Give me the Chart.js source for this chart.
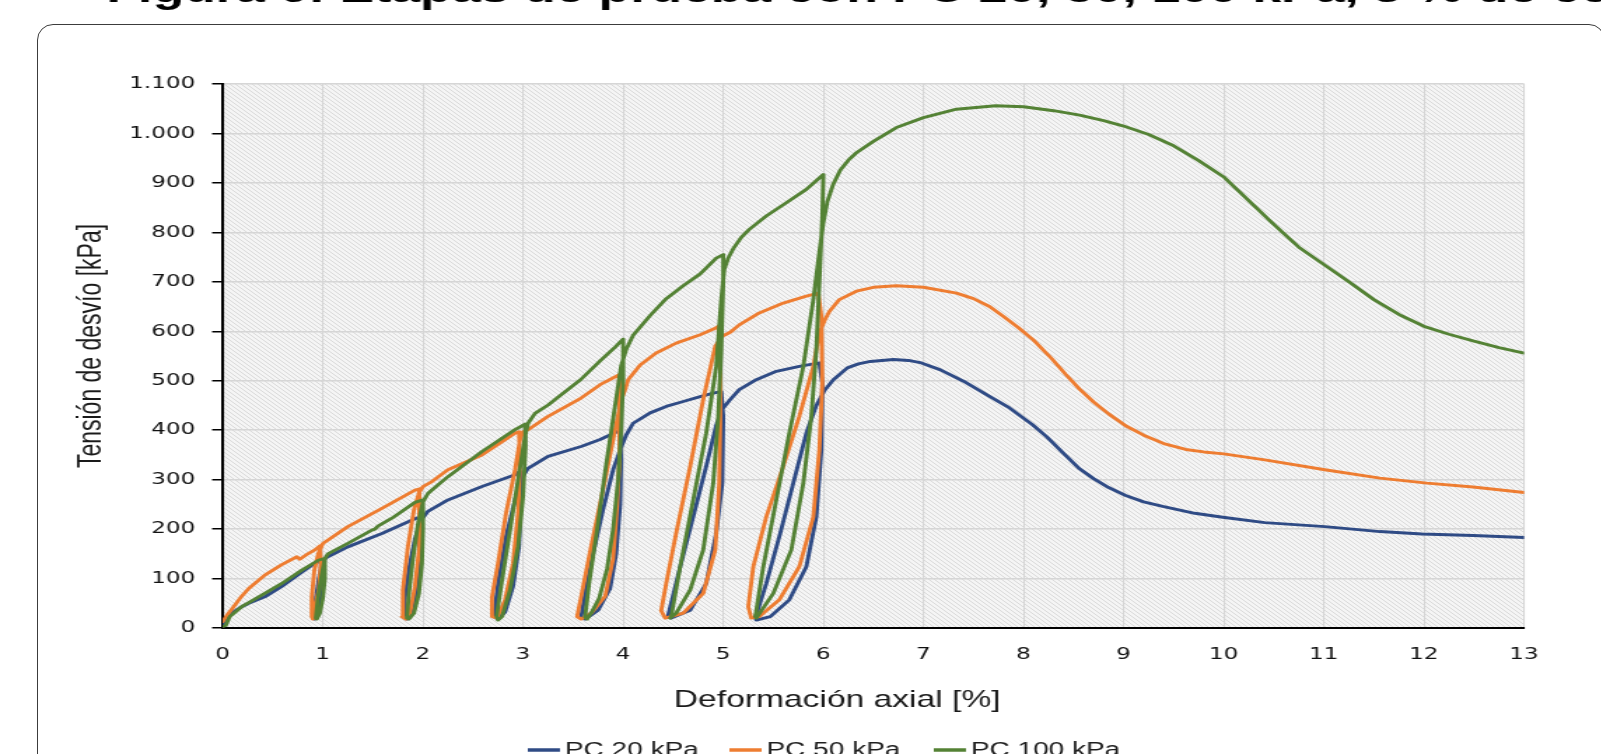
<!DOCTYPE html>
<html lang="es">
<head>
<meta charset="utf-8">
<title>Tensión de desvío - Deformación axial</title>
<script src="https://cdn.jsdelivr.net/npm/chart.js@4.4.1/dist/chart.umd.min.js"></script>
<style>
  html, body { margin: 0; padding: 0; background: #fff; }
  body { width: 1601px; height: 754px; overflow: hidden; position: relative; }
  #frame { position: absolute; left: 37px; top: 24px; width: 1568px; height: 800px; box-sizing: border-box;
           border: 1.5px solid #3c3c3c; border-radius: 16px; }
  /* the source picture is stretched sideways, so the whole chart is drawn narrow and widened */
  #chart { position: absolute; left: 0; top: 0; transform: scaleX(1.4); transform-origin: 0 0; }
</style>
</head>
<body>
<div id="frame"></div>
<canvas id="chart" width="1144" height="754"></canvas>
<script>
// --- DATA (strain %, deviator stress kPa) ---
const seriesLabels = ['PC 20 kPa', 'PC 50 kPa', 'PC 100 kPa'];
const seriesColors = ['#2f4b85', '#ee7d31', '#548235'];
const captionText = 'Figura 6: Etapas de prueba con PC 20, 50, 100 kPa, 3 % de cemento';
const xTitle = 'Deformación axial [%]';
const yTitle = 'Tensión de desvío [kPa]';

const pc20 = [
  [0, 8], [0.03, 20], [0.09, 30], [0.18, 42], [0.26, 50], [0.42, 63], [0.59, 84], [0.75, 107], [0.92, 131], [0.98, 137],
  [0.99, 110], [0.98, 70], [0.95, 35], [0.92, 18],
  [0.91, 22], [0.93, 60], [0.96, 100], [0.99, 130], [1.03, 142],
  [1.25, 164], [1.59, 191], [1.92, 221], [1.96, 224],
  [1.97, 190], [1.96, 130], [1.93, 70], [1.88, 32], [1.84, 18],
  [1.81, 22], [1.82, 60], [1.86, 120], [1.92, 180], [1.98, 218], [2.05, 236],
  [2.25, 259], [2.59, 286], [2.92, 310], [2.97, 317],
  [2.98, 266], [2.96, 165], [2.9, 84], [2.82, 32], [2.75, 18],
  [2.71, 23], [2.75, 90], [2.83, 185], [2.92, 259], [2.98, 300], [3.05, 323],
  [3.25, 347], [3.58, 367], [3.77, 381], [3.95, 398], [3.97, 400],
  [3.98, 340], [3.97, 250], [3.93, 150], [3.87, 80], [3.75, 36], [3.62, 18],
  [3.58, 22], [3.62, 70], [3.7, 150], [3.8, 240], [3.9, 320], [3.97, 360], [4.03, 390], [4.1, 414],
  [4.27, 435], [4.43, 448], [4.6, 458], [4.77, 468], [4.9, 475], [4.98, 478],
  [5.0, 428], [4.99, 293], [4.93, 192], [4.83, 90], [4.67, 36], [4.48, 20],
  [4.45, 26], [4.57, 124], [4.7, 225], [4.83, 327], [4.93, 410], [5.0, 445], [5.07, 462],
  [5.16, 482], [5.33, 502], [5.53, 519], [5.76, 529], [5.96, 536],
  [5.99, 495], [5.98, 360], [5.93, 225], [5.83, 124], [5.66, 57], [5.47, 23], [5.33, 16],
  [5.32, 20], [5.43, 90], [5.57, 192], [5.7, 293], [5.83, 394], [5.93, 450], [6.01, 480], [6.1, 502],
  [6.24, 526], [6.35, 534], [6.47, 539], [6.7, 543], [6.85, 541], [6.98, 536], [7.17, 522], [7.4, 499],
  [7.63, 472], [7.86, 445], [8.09, 411], [8.23, 387], [8.42, 349], [8.56, 322], [8.7, 302], [8.85, 284],
  [9.02, 268], [9.2, 255], [9.39, 246], [9.71, 232], [9.99, 224], [10.41, 213], [11.01, 205], [11.56, 195],
  [11.98, 190], [12.49, 187], [13.0, 183]
];

const pc50 = [
  [0, 13], [0.05, 28], [0.09, 38], [0.18, 62], [0.26, 80], [0.42, 107], [0.59, 128], [0.74, 144], [0.77, 139],
  [0.85, 150], [0.92, 158], [0.97, 166],
  [0.98, 131], [0.96, 77], [0.92, 43], [0.9, 18],
  [0.89, 23], [0.89, 63], [0.915, 117], [0.955, 151], [1.0, 171],
  [1.25, 205], [1.59, 242], [1.92, 279], [1.96, 281],
  [1.97, 252], [1.96, 165], [1.92, 84], [1.87, 30], [1.83, 18],
  [1.79, 23], [1.8, 77], [1.85, 165], [1.91, 239], [1.96, 273], [2.0, 286],
  [2.09, 296], [2.25, 320], [2.59, 350], [2.92, 394], [2.96, 397],
  [2.97, 333], [2.95, 232], [2.9, 131], [2.82, 57], [2.74, 20],
  [2.69, 23], [2.69, 63], [2.75, 131], [2.83, 232], [2.92, 320], [2.97, 381], [3.0, 397],
  [3.05, 401], [3.25, 428], [3.58, 465], [3.77, 492], [3.96, 512],
  [3.97, 450], [3.96, 350], [3.94, 250], [3.9, 140], [3.82, 64], [3.68, 30], [3.58, 18],
  [3.54, 23], [3.58, 63], [3.68, 165], [3.82, 300], [3.92, 401], [3.98, 460], [4.02, 482], [4.05, 502],
  [4.17, 532], [4.33, 556], [4.53, 576], [4.77, 593], [4.93, 607], [4.95, 610],
  [4.97, 560], [4.97, 428], [4.96, 293], [4.92, 158], [4.8, 70], [4.6, 30], [4.42, 20],
  [4.38, 35], [4.43, 90], [4.53, 192], [4.67, 327], [4.8, 462], [4.92, 570], [4.99, 590], [5.07, 598],
  [5.16, 613], [5.36, 637], [5.6, 657], [5.83, 671], [5.95, 677],
  [5.98, 630], [5.99, 495], [5.96, 360], [5.9, 225], [5.76, 124], [5.56, 57], [5.36, 23], [5.28, 20],
  [5.25, 43], [5.3, 124], [5.43, 225], [5.6, 327], [5.76, 428], [5.9, 529], [5.96, 597], [6.02, 625], [6.06, 640],
  [6.16, 664], [6.33, 681], [6.5, 689], [6.73, 692], [7.0, 689], [7.33, 677], [7.5, 666], [7.66, 650],
  [7.8, 630], [7.95, 607], [8.1, 582], [8.28, 545], [8.42, 513], [8.56, 483], [8.7, 457], [8.85, 433],
  [9.02, 409], [9.2, 390], [9.4, 373], [9.62, 361], [9.8, 356], [10.0, 352], [10.41, 340], [11.01, 320],
  [11.56, 303], [12.03, 293], [12.49, 285], [13.0, 274]
];

const pc100 = [
  [0, 3], [0.03, 5], [0.07, 23], [0.19, 43], [0.42, 70], [0.59, 90], [0.79, 117], [0.955, 137], [1.02, 141],
  [1.02, 100], [1.0, 60], [0.97, 30], [0.94, 18],
  [0.93, 20], [0.95, 60], [0.99, 110], [1.02, 140], [1.05, 150],
  [1.25, 171], [1.49, 198], [1.52, 200], [1.55, 206], [1.69, 222], [1.92, 254], [2.0, 259],
  [2.0, 200], [1.99, 130], [1.96, 70], [1.91, 30], [1.86, 18],
  [1.84, 20], [1.86, 70], [1.9, 140], [1.95, 210], [2.0, 255], [2.05, 272], [2.09, 279],
  [2.25, 306], [2.59, 357], [2.92, 401], [3.02, 412],
  [3.025, 367], [3.0, 266], [2.95, 165], [2.87, 77], [2.79, 23], [2.75, 16],
  [2.735, 23], [2.785, 90], [2.87, 198], [2.95, 300], [3.02, 387], [3.05, 414],
  [3.12, 434], [3.25, 451], [3.58, 503], [3.77, 540], [3.92, 568], [4.0, 584],
  [4.0, 500], [3.98, 400], [3.95, 300], [3.9, 200], [3.84, 120], [3.76, 60], [3.68, 30], [3.64, 18],
  [3.62, 22], [3.66, 90], [3.74, 200], [3.83, 330], [3.92, 450], [3.98, 530], [4.03, 563],
  [4.1, 592], [4.27, 632], [4.43, 666], [4.6, 692], [4.77, 716], [4.93, 748], [5.0, 755],
  [5.0, 698], [4.98, 563], [4.95, 428], [4.9, 293], [4.8, 158], [4.67, 77], [4.53, 30], [4.47, 20],
  [4.48, 23], [4.57, 124], [4.7, 259], [4.83, 394], [4.93, 529], [4.98, 664], [5.01, 725], [5.05, 748],
  [5.1, 767], [5.18, 790], [5.26, 806], [5.43, 833], [5.63, 860], [5.83, 887], [6.0, 917],
  [5.99, 833], [5.96, 698], [5.93, 563], [5.88, 428], [5.8, 293], [5.68, 158], [5.5, 70], [5.33, 20],
  [5.32, 23], [5.4, 124], [5.53, 259], [5.66, 394], [5.8, 529], [5.9, 664], [5.96, 760], [6.0, 820],
  [6.04, 862], [6.1, 898], [6.17, 926], [6.25, 946], [6.33, 961], [6.5, 984], [6.73, 1012], [7.0, 1032],
  [7.33, 1049], [7.72, 1056], [8.0, 1054], [8.3, 1046], [8.56, 1037], [8.8, 1026], [9.0, 1015], [9.25, 998],
  [9.5, 975], [9.75, 945], [10.0, 912], [10.25, 864], [10.5, 816], [10.75, 770], [11.0, 735], [11.25, 700],
  [11.5, 664], [11.75, 634], [12.0, 610], [12.25, 594], [12.5, 580], [12.75, 567], [13.0, 556]
];

const seriesData = [pc20, pc50, pc100];

// --- HELPERS ---
// 1100 -> "1.100"
const fmtKpa = v => v >= 1000 ? `${Math.floor(v / 1000)}.${String(v % 1000).padStart(3, '0')}` : String(v);

const makeHatch = (ctx) => {
  const s = 4;
  const c = document.createElement('canvas');
  c.width = s; c.height = s;
  const g = c.getContext('2d');
  g.fillStyle = '#f5f5f5'; g.fillRect(0, 0, s, s);
  g.strokeStyle = '#dadada'; g.lineWidth = 1;
  g.beginPath();
  g.moveTo(0, 0); g.lineTo(s, s);
  g.moveTo(-1, s - 1); g.lineTo(1, s + 1);
  g.moveTo(s - 1, -1); g.lineTo(s + 1, 1);
  g.stroke();
  return ctx.createPattern(c, 'repeat');
};

// legend spots, in the narrow (unstretched) canvas units
const legendX = [377, 521, 667];

const decor = {
  id: 'decor',
  beforeDraw(chart) {
    const { ctx, chartArea: a } = chart;
    ctx.save();
    ctx.fillStyle = makeHatch(ctx);
    ctx.fillRect(a.left, a.top, a.right - a.left, a.bottom - a.top);
    ctx.restore();
  },
  afterDraw(chart) {
    const { ctx } = chart;
    ctx.save();
    // caption cut off at the top of the slide
    ctx.fillStyle = '#000';
    ctx.font = 'bold 37px "Liberation Sans", Arial, sans-serif';
    ctx.textAlign = 'left'; ctx.textBaseline = 'alphabetic';
    ctx.fillText(captionText, 76, 2);

    // axis titles
    ctx.fillStyle = '#1a1a1a';
    ctx.font = '24px "Liberation Sans", Arial, sans-serif';
    ctx.textAlign = 'center'; ctx.textBaseline = 'middle';
    ctx.fillText(xTitle, 598, 700);
    ctx.save();
    ctx.translate(65.7, 346);
    ctx.rotate(-Math.PI / 2);
    ctx.font = '23px "Liberation Sans", Arial, sans-serif';
    ctx.fillText(yTitle, 0, 0);
    ctx.restore();

    // legend (cut off at the bottom)
    ctx.font = '20px "Liberation Sans", Arial, sans-serif';
    ctx.textAlign = 'left'; ctx.textBaseline = 'alphabetic';
    chart.data.datasets.forEach((ds, i) => {
      const x = legendX[i];
      ctx.strokeStyle = ds.borderColor; ctx.lineWidth = 3.5;
      ctx.beginPath(); ctx.moveTo(x, 750); ctx.lineTo(x + 23, 750); ctx.stroke();
      ctx.fillStyle = '#1e1e1e';
      ctx.fillText(ds.label, x + 26.5, 756);
    });
    ctx.restore();
  }
};

// --- CHART ---
const datasets = seriesData.map((pts, i) => ({
  label: seriesLabels[i],
  data: pts,
  showLine: true,
  borderColor: seriesColors[i],
  backgroundColor: seriesColors[i],
  borderWidth: 2.9,
  borderJoinStyle: 'round',
  borderCapStyle: 'round',
  pointRadius: 0,
  tension: 0,
  order: seriesData.length - 1 - i   // PC 100 drawn on top, like the original
}));

const tickFont = { family: '"DejaVu Sans", Verdana, sans-serif', size: 16.5 };

new Chart(document.getElementById('chart'), {
  type: 'scatter',
  data: { datasets },
  options: {
    responsive: false,
    animation: false,
    devicePixelRatio: 1,
    layout: { padding: { top: 84, right: 55.4, left: 0, bottom: 0 } },
    plugins: { legend: { display: false }, tooltip: { enabled: false } },
    scales: {
      x: {
        type: 'linear', min: 0, max: 13,
        ticks: { stepSize: 1, color: '#111', padding: 16.5, maxRotation: 0, font: tickFont },
        grid: { color: '#d6d6d6', lineWidth: 1.1, drawTicks: false },
        border: { color: '#000', width: 2 },
        afterFit: s => { s.height = 126; }
      },
      y: {
        type: 'linear', min: 0, max: 1100,
        ticks: { stepSize: 100, color: '#111', padding: 12, callback: v => fmtKpa(v), font: tickFont },
        grid: { color: '#d6d6d6', lineWidth: 1.5, tickColor: '#000', tickWidth: 1.5, tickLength: 7.6 },
        border: { color: '#000', width: 2 },
        afterFit: s => { s.width = 159.1; }
      }
    }
  },
  plugins: [decor]
});
</script>
</body>
</html>
